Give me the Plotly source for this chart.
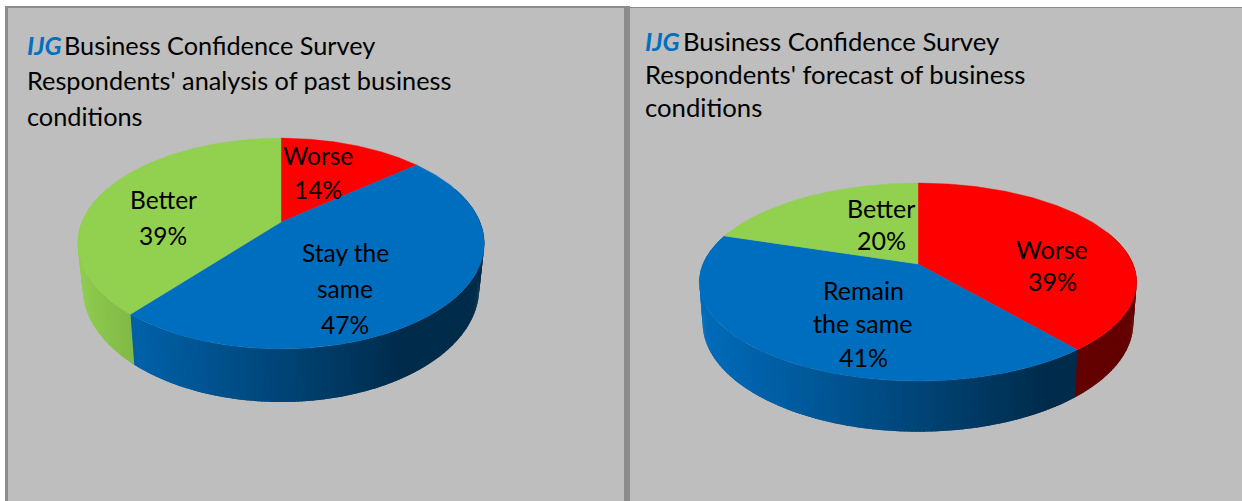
import numpy as np
import plotly.graph_objects as go

# Survey results, in percent, running clockwise from twelve o'clock
past_categories = ["Worse", "Stay the same", "Better"]
past_values = [14, 47, 39]
forecast_categories = ["Worse", "Remain the same", "Better"]
forecast_values = [39, 41, 20]

BASE = {"Worse": "#FF0000", "Stay the same": "#006EBF",
        "Remain the same": "#006EBF", "Better": "#92D050"}
PANEL = "#BEBEBE"
EDGE = "#8C8C8C"
FONT = "Lato"


def project(t, cx, cy, a, b, k, depth=0.0, sx=1.0, sy=1.0):
    """Perspective view of a unit disc, t measured clockwise from the top."""
    u, v = np.sin(t), -np.cos(t)
    w = 1 - k * v
    return cx + sx * a * u / w, cy + sy * b * v / w + depth


def shade(nx):
    """Side-wall brightness across the width of the pie."""
    return np.interp(nx, [0, 0.5, 0.8, 1], [0.98, 0.62, 0.39, 0.39])


def mix(hex_colour, f):
    r, g, b = (int(hex_colour[i:i + 2], 16) for i in (1, 3, 5))
    return f"rgb({r * f:.0f},{g * f:.0f},{b * f:.0f})"


def pie_traces(categories, values, cx, cy, a, b, k, depth, sx, sy):
    traces = []
    edges = np.cumsum([0] + list(values)) / sum(values) * 2 * np.pi
    half_w = a / np.sqrt(1 - k * k)

    # Side wall first, in thin strips; each strip runs under the next one
    # so that no background shows through between them
    for cat, t0, t1 in zip(categories, edges[:-1], edges[1:]):
        n = max(2, int((t1 - t0) / 0.015))
        ts = np.linspace(t0, t1, n + 1)
        for s0, s1 in zip(ts[:-1], ts[1:]):
            if -np.cos((s0 + s1) / 2) < -0.35:
                continue
            pair = np.array([s0, s1 + 0.012])
            xt, yt = project(pair, cx, cy, a, b, k)
            xb, yb = project(pair, cx, cy, a, b, k, depth, sx, sy)
            nx = (xt.mean() - (cx - half_w)) / (2 * half_w)
            traces.append(go.Scatter(
                x=[xt[0], xt[1], xb[1], xb[0], xt[0]],
                y=[yt[0], yt[1], yb[1], yb[0], yt[0]],
                mode="lines", fill="toself", fillcolor=mix(BASE[cat], shade(nx)),
                line=dict(width=0), hoverinfo="skip"))

    # Top face of each slice
    for cat, t0, t1 in zip(categories, edges[:-1], edges[1:]):
        ts = np.linspace(t0, t1, 160)
        xa, ya = project(ts, cx, cy, a, b, k)
        traces.append(go.Scatter(
            x=np.r_[cx, xa, cx], y=np.r_[cy, ya, cy],
            mode="lines", fill="toself", fillcolor=BASE[cat],
            line=dict(color=BASE[cat], width=0.4), hoverinfo="text",
            text=cat))
    return traces


fig = go.Figure()
for tr in pie_traces(past_categories, past_values, 281, 222, 199, 101, 0.204, 43, 0.975, 1.08):
    fig.add_trace(tr)
for tr in pie_traces(forecast_categories, forecast_values, 918, 264, 215, 95.7, 0.182, 39, 0.985, 1.1):
    fig.add_trace(tr)


def text(x, y, s, size, anchor="center"):
    fig.add_annotation(x=x, y=y, text=s, showarrow=False, xanchor=anchor,
                       yanchor="middle", font=dict(family=FONT, size=size, color="#000000"))


# Panel headings; the blue IJG mark sits just ahead of the first line
IJG = '<span style="color:#0070C0"><b><i>IJG</i></b></span>'
for x, y, s, size in [(25, 45, IJG, 25.3),
                      (62, 45, "Business Confidence Survey", 25.3),
                      (25, 80, "Respondents' analysis of past business", 25.3),
                      (25, 116, "conditions", 25.3),
                      (643, 41, IJG, 25.3),
                      (681, 41, "Business Confidence Survey", 25.7),
                      (643, 74, "Respondents' forecast of business", 25.7),
                      (643, 107, "conditions", 25.7)]:
    text(x, y, s, size, "left")

# Slice labels, one annotation per line
past_label_pos = {"Worse": (318, [155, 189]), "Stay the same": (345, [252, 288, 324]), "Better": (163, [199, 235])}
past_lines = {"Worse": ["Worse"], "Stay the same": ["Stay the", "same"], "Better": ["Better"]}
for cat, val in zip(past_categories, past_values):
    x, ys = past_label_pos[cat]
    for y, s in zip(ys, past_lines[cat] + [f"{val}%"]):
        text(x, y, s, 24.5)

forecast_label_pos = {"Worse": (1052, [249, 281]), "Remain the same": (863, [290, 323, 357]), "Better": (881, [208, 240])}
forecast_lines = {"Worse": ["Worse"], "Remain the same": ["Remain", "the same"], "Better": ["Better"]}
for cat, val in zip(forecast_categories, forecast_values):
    x, ys = forecast_label_pos[cat]
    for y, s in zip(ys, forecast_lines[cat] + [f"{val}%"]):
        text(x, y, s, 25)

fig.update_layout(
    width=1242, height=501, autosize=False, showlegend=False,
    margin=dict(l=0, r=0, t=0, b=0), paper_bgcolor="#FFFFFF", plot_bgcolor="#FFFFFF",
    xaxis=dict(range=[0, 1242], visible=False, fixedrange=True),
    yaxis=dict(range=[501, 0], visible=False, fixedrange=True),
    shapes=[
        dict(type="rect", x0=5, x1=624, y0=6, y1=501, fillcolor=EDGE, line_width=0, layer="below"),
        dict(type="rect", x0=8, x1=624, y0=8, y1=501, fillcolor=PANEL, line_width=0, layer="below"),
        dict(type="rect", x0=624, x1=630, y0=6, y1=501, fillcolor=EDGE, line_width=0, layer="below"),
        dict(type="rect", x0=630, x1=1242, y0=7, y1=501, fillcolor=EDGE, line_width=0, layer="below"),
        dict(type="rect", x0=630, x1=1242, y0=8, y1=501, fillcolor=PANEL, line_width=0, layer="below"),
    ],
)
fig.write_html("out.html", config={"displayModeBar": False})
